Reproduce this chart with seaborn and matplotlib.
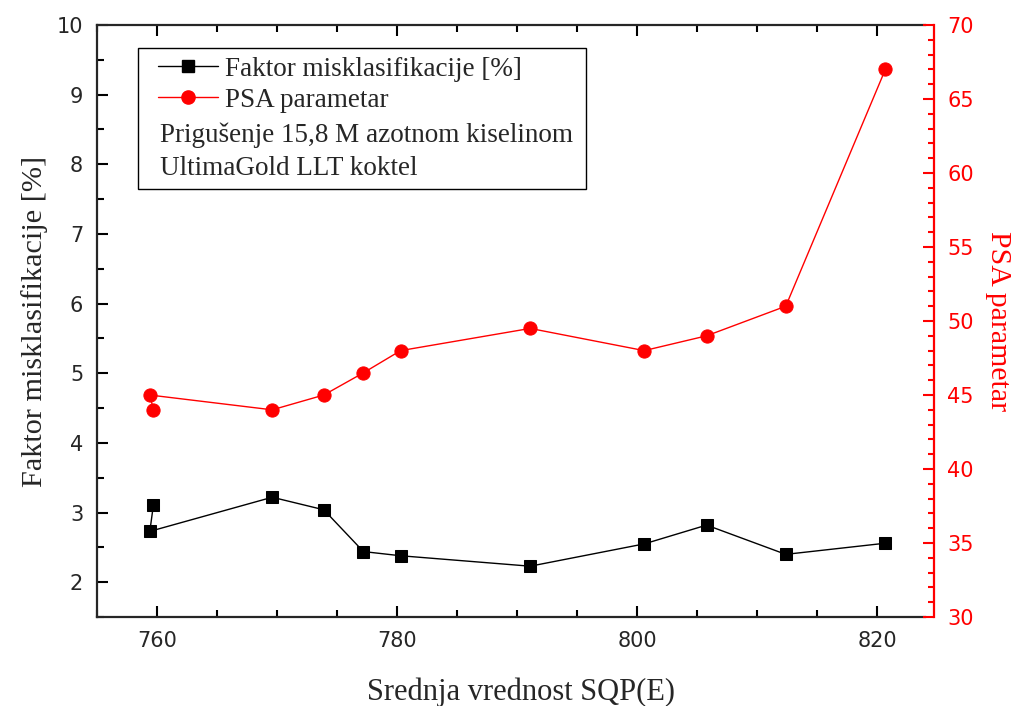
import matplotlib
matplotlib.use("Agg")
import matplotlib.pyplot as plt
import seaborn as sns
from matplotlib.lines import Line2D
from matplotlib.patches import Rectangle
from matplotlib.ticker import MultipleLocator

# podaci ocitani sa grafika
sqp = [759.7, 759.4, 769.6, 773.9, 777.2, 780.3, 791.1, 800.6, 805.8, 812.4, 820.7]
faktor = [3.11, 2.73, 3.22, 3.04, 2.44, 2.38, 2.23, 2.55, 2.82, 2.40, 2.56]
psa = [44.0, 45.0, 44.0, 45.0, 46.5, 48.0, 49.5, 48.0, 49.0, 51.0, 67.0]

legend_labels = ["Faktor misklasifikacije [%]", "PSA parametar"]
note_lines = ["Prigušenje 15,8 M azotnom kiselinom", "UltimaGold LLT koktel"]

sns.set_style("ticks")
plt.rcParams["font.family"] = ["DejaVu Sans"]
serif = ["Liberation Serif", "DejaVu Serif"]

fig = plt.figure(figsize=(10.17, 7.06), dpi=100)
ax = fig.add_axes([0.0954, 0.126, 0.8141, 0.8386])
ax2 = ax.twinx()

sns.lineplot(x=sqp, y=faktor, ax=ax, sort=False, estimator=None, color="black",
             lw=1, marker="s", markersize=9, markeredgecolor="black")
sns.lineplot(x=sqp, y=psa, ax=ax2, sort=False, estimator=None, color="red",
             lw=1, marker="o", markersize=9.5, markeredgecolor="red")

ax.set_xlim(755, 824)
ax.set_ylim(1.5, 10)
ax2.set_ylim(30, 70)

ax.xaxis.set_major_locator(MultipleLocator(20))
ax.xaxis.set_minor_locator(MultipleLocator(5))
ax.yaxis.set_major_locator(MultipleLocator(1))
ax.yaxis.set_minor_locator(MultipleLocator(0.5))
ax2.yaxis.set_major_locator(MultipleLocator(5))
ax2.yaxis.set_minor_locator(MultipleLocator(1))

for s in ["left", "bottom", "top"]:
    ax.spines[s].set_linewidth(1.6)
    ax.spines[s].set_visible(True)
ax.spines["right"].set_visible(False)
for s in ["left", "bottom", "top"]:
    ax2.spines[s].set_visible(False)
ax2.spines["right"].set_visible(True)
ax2.spines["right"].set_color("red")
ax2.spines["right"].set_linewidth(1.6)
ax2.spines["right"].set_position(("outward", 6.5))

ax.tick_params(axis="both", which="both", direction="in", width=1.5,
               top=True, right=False, labelsize=15, color="black", pad=10)
ax.tick_params(which="major", length=8)
ax.tick_params(which="minor", length=5)
ax2.tick_params(axis="y", which="both", direction="in", width=1.5,
                colors="red", labelsize=15, pad=9.5)
ax2.tick_params(which="major", length=8)
ax2.tick_params(which="minor", length=4.5)

ax.set_xlabel("Srednja vrednost SQP(E)", family=serif, fontsize=22, labelpad=19)
ax.xaxis.label.set_x(0.512)
ax.set_ylabel("Faktor misklasifikacije [%]", family=serif, fontsize=21.8, labelpad=6)
ax2.set_ylabel("PSA parametar", family=serif, fontsize=21.5, color="red",
               rotation=-90, labelpad=27)

# legenda sa okvirom
ax.add_patch(Rectangle((0.0495, 0.723), 0.5411, 0.238, transform=ax.transAxes,
                       fill=False, edgecolor="black", lw=1, zorder=5))
handles = [Line2D([], [], color="black", lw=1, marker="s", markersize=9),
           Line2D([], [], color="red", lw=1, marker="o", markersize=9.5)]
ax.legend(handles, legend_labels, loc="upper left", bbox_to_anchor=(0.074, 0.946),
          frameon=False, borderpad=0, borderaxespad=0, handlelength=2.2,
          handletextpad=0.26, labelspacing=0.22, prop={"family": serif, "size": 19.5})
ax.text(0.0761, 0.8024, note_lines[0], transform=ax.transAxes, family=serif,
        fontsize=19.5, va="baseline", ha="left")
ax.text(0.0761, 0.7466, note_lines[1], transform=ax.transAxes, family=serif,
        fontsize=19.5, va="baseline", ha="left")

fig.savefig("out.png", dpi=100)
